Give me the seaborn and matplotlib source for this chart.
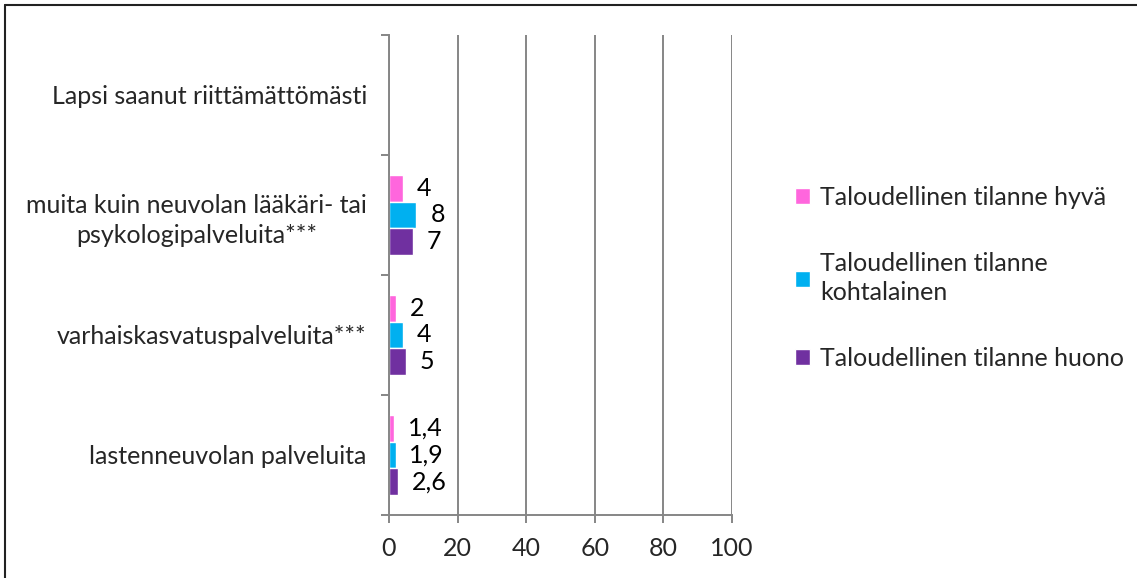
import pandas as pd
import numpy as np
import seaborn as sns
import matplotlib.pyplot as plt
from matplotlib.lines import Line2D

# data (top to bottom)
categories = ['Lapsi saanut riittämättömästi',
              'muita kuin neuvolan lääkäri- tai\npsykologipalveluita***',
              'varhaiskasvatuspalveluita***',
              'lastenneuvolan palveluita']
groups = ['Taloudellinen tilanne hyvä',
          'Taloudellinen tilanne\nkohtalainen',
          'Taloudellinen tilanne huono']
hyva = [np.nan, 4, 2, 1.4]
kohtalainen = [np.nan, 8, 4, 1.9]
huono = [np.nan, 7, 5, 2.6]
colors = ['#FF66DD', '#00B0F0', '#7030A0']

rows = []
for g, vals in zip(groups, [hyva, kohtalainen, huono]):
    for c, v in zip(categories, vals):
        rows.append({'Kategoria': c, 'Ryhmä': g, 'Arvo': v})
df = pd.DataFrame(rows).dropna()

sns.set_style('white')
plt.rcParams['font.family'] = ['Lato', 'DejaVu Sans']
grey = '#868686'
fs = 18

fig = plt.figure(figsize=(11.37, 5.78), dpi=100)
ax = fig.add_axes([389/1137, 1 - 515/578, (732-389)/1137, (515-35)/578])

sns.barplot(data=df, x='Arvo', y='Kategoria', hue='Ryhmä', order=categories,
            hue_order=groups, palette=colors, width=0.67, saturation=1,
            orient='h', ax=ax, legend=True)

# value labels with decimal comma
for cont, vals in zip(ax.containers, [hyva, kohtalainen, huono]):
    labs = [('%g' % v).replace('.', ',') for v in vals if not np.isnan(v)]
    ax.bar_label(cont, labels=labs, padding=10, fontsize=fs, color='black')

ax.set_xlim(0, 100)
ax.set_ylim(3.5, -0.5)
ax.set_xticks([0, 20, 40, 60, 80, 100])
ax.set_xlabel('')
ax.set_ylabel('')
ax.grid(axis='x', color=grey, lw=1.4)
ax.grid(axis='y', visible=False)
ax.set_axisbelow(True)
for s in ['top', 'right']:
    ax.spines[s].set_visible(False)
for s in ['left', 'bottom']:
    ax.spines[s].set_color(grey)
    ax.spines[s].set_linewidth(1.4)

ax.set_yticks([-0.5, 0.5, 1.5, 2.5, 3.5], minor=True)
ax.tick_params(axis='y', which='major', length=0, pad=16, labelsize=fs)
ax.tick_params(axis='y', which='minor', length=6, width=1.4, color=grey, left=True)
ax.tick_params(axis='x', length=6, width=1.4, color=grey, pad=10, labelsize=fs,
               bottom=True)
for t in ax.get_yticklabels():
    t.set_multialignment('center')
    t.set_linespacing(1.35)

handles, labels = ax.get_legend_handles_labels()
leg = ax.legend(handles, labels, loc='center left', bbox_to_anchor=(795/1137, 1 - 278/578),
                bbox_transform=fig.transFigure, frameon=False, fontsize=fs,
                borderpad=0, borderaxespad=0, handlelength=0.6, handleheight=0.6,
                handletextpad=0.4, labelspacing=1.7)
for t in leg.get_texts():
    t.set_linespacing(1.35)

# outer frame (only top and left edges show in the picture)
fig.add_artist(Line2D([5/1137, 1.01], [1 - 5/578, 1 - 5/578], color='#222222', lw=1.5,
                      transform=fig.transFigure))
fig.add_artist(Line2D([5/1137, 5/1137], [-0.01, 1 - 5/578], color='#222222', lw=1.5,
                      transform=fig.transFigure))

plt.savefig('out.png', dpi=100)
